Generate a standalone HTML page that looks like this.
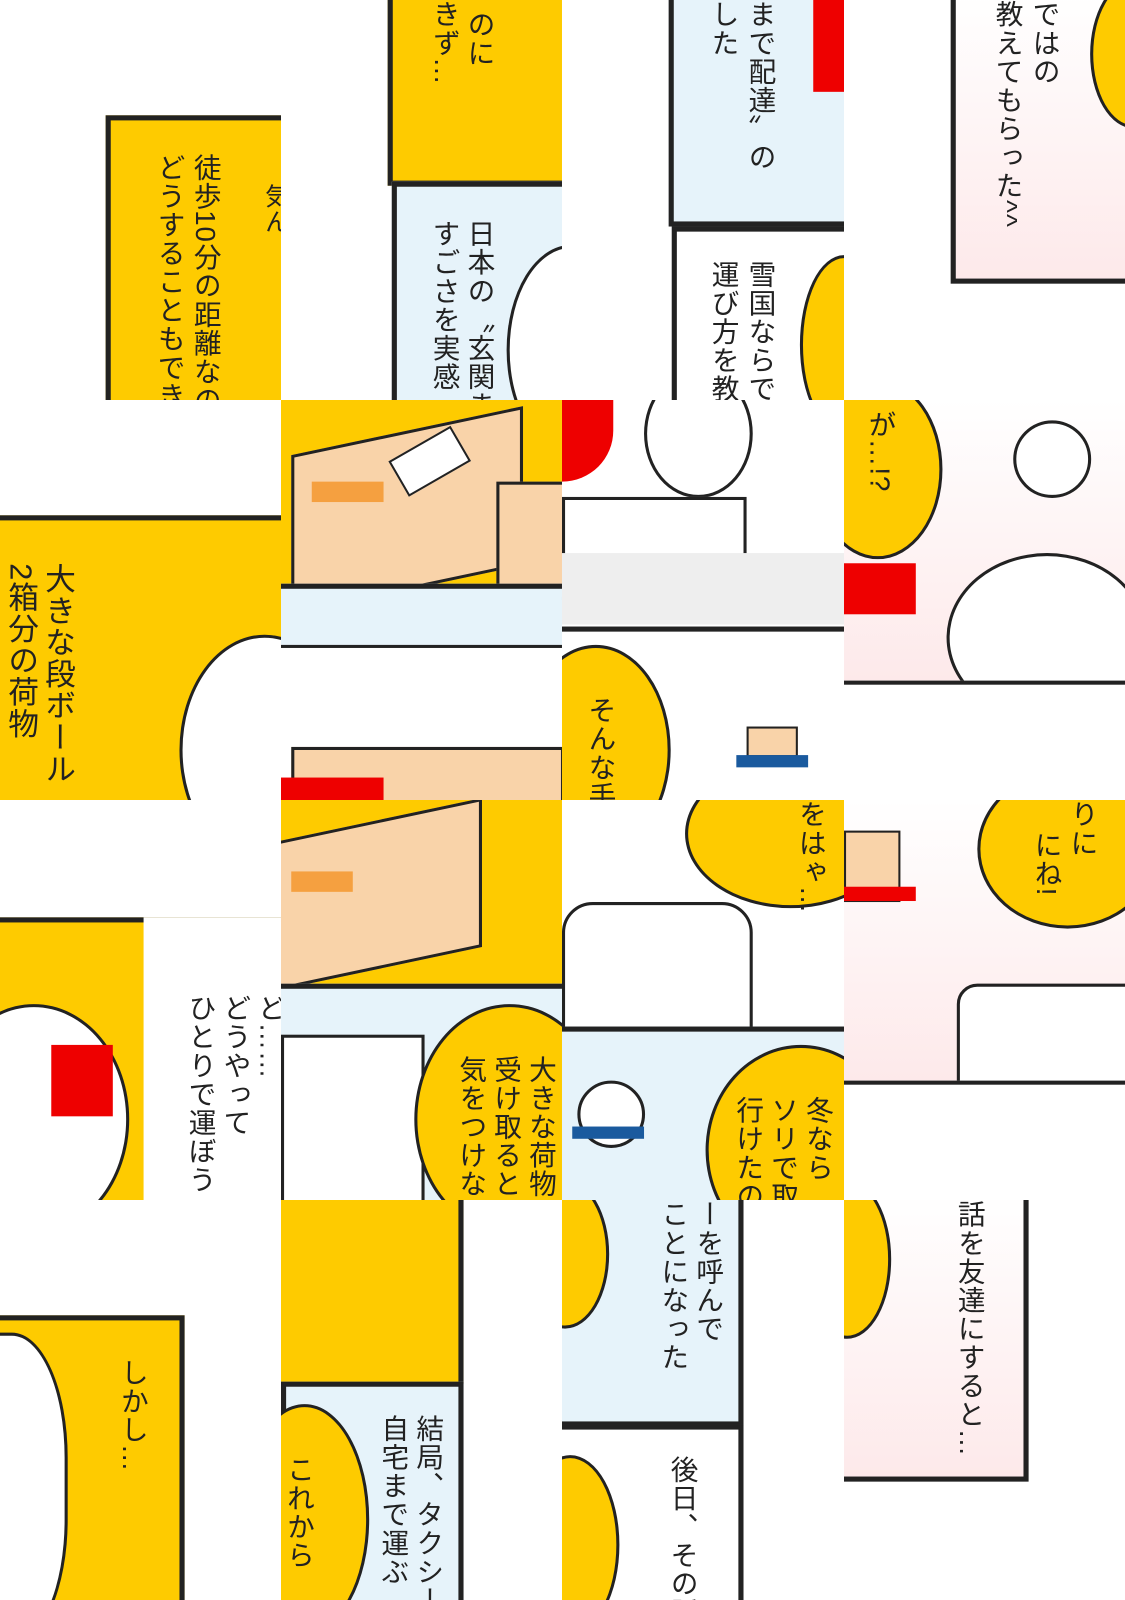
<!DOCTYPE html>
<html><head><meta charset="utf-8"><style>
html,body{margin:0;padding:0;background:#fff;overflow:hidden}
#w{width:1097px;height:1568px;position:relative;transform:scale(1.02553,1.02041);transform-origin:0 0;overflow:hidden;background:#fff}
.t{position:absolute;overflow:hidden;background:#fff}
.b{position:absolute;box-sizing:border-box}
.y{background:#fecb00}
.lb{background:#e6f3fa}
.pk{background:linear-gradient(#fff,#fde9ea)}
.bd{border:5px solid #222}
.v{position:absolute;writing-mode:vertical-rl;font-family:"Liberation Sans","Noto Sans CJK JP",sans-serif;font-size:27px;color:#222;line-height:34px;white-space:nowrap;letter-spacing:1px}
.blob{position:absolute;background:#fecb00;border-radius:50%;border:3px solid #222}
.wb{position:absolute;background:#fff;border:3px solid #222;border-radius:50%}
.box{position:absolute;background:#f9d3a9;border:3px solid #222}
.tape{position:absolute;background:#f5a040}
</style></head><body><div id="w">
<!-- row 0 -->
<div class="t" style="left:0;top:0;width:274px;height:392px">
 <div class="b y bd" style="left:103px;top:113px;width:190px;height:300px"></div>
 <div class="v" style="left:183px;top:150px">徒歩10分の距離なの</div>
 <div class="v" style="left:148px;top:150px">どうすることもでき</div>
 <div class="v" style="left:250px;top:180px;font-size:24px">気ん</div>
</div>
<div class="t" style="left:274px;top:0;width:274px;height:392px">
 <div class="b y bd" style="left:104px;top:-10px;width:190px;height:192px"></div>
 <div class="v" style="left:176px;top:10px">のに</div>
 <div class="v" style="left:142px;top:0">きず…</div>
 <div class="b lb bd" style="left:108px;top:178px;width:190px;height:240px"></div>
 <div class="wb" style="left:220px;top:240px;width:120px;height:200px"></div>
 <div class="v" style="left:176px;top:215px">日本の〝玄関ま</div>
 <div class="v" style="left:142px;top:215px">すごさを実感</div>
</div>
<div class="t" style="left:548px;top:0;width:275px;height:392px">
 <div class="b lb bd" style="left:104px;top:-10px;width:190px;height:232px"></div>
 <div class="b" style="left:245px;top:0;width:40px;height:90px;background:#e00"></div>
 <div class="v" style="left:176px;top:0">まで配達〟の</div>
 <div class="v" style="left:140px;top:0">した</div>
 <div class="b bd" style="left:107px;top:222px;width:190px;height:190px;background:#fff"></div>
 <div class="blob" style="left:232px;top:250px;width:80px;height:170px"></div>
 <div class="v" style="left:176px;top:255px">雪国ならで</div>
 <div class="v" style="left:140px;top:255px">運び方を教</div>
</div>
<div class="t" style="left:823px;top:0;width:274px;height:392px">
 <div class="b pk bd" style="left:104px;top:-10px;width:190px;height:288px"></div>
 <div class="blob" style="left:240px;top:-20px;width:80px;height:140px"></div>
 <div class="v" style="left:178px;top:0">ではの</div>
 <div class="v" style="left:142px;top:0">教えてもらった^^</div>
</div>
<!-- row 1 -->
<div class="t" style="left:0;top:392px;width:274px;height:392px">
 <div class="b y" style="left:0;top:113px;width:274px;height:300px;border-top:5px solid #222"></div>
 <div class="wb" style="left:175px;top:230px;width:160px;height:220px"></div>
 <div class="v" style="left:38px;top:160px;font-size:30px">大きな段ボール</div>
 <div class="v" style="left:2px;top:160px;font-size:30px">2箱分の荷物</div>
</div>
<div class="t" style="left:274px;top:392px;width:274px;height:392px">
 <div class="b y" style="left:0;top:0;width:274px;height:180px"></div>
 <div class="box" style="left:10px;top:30px;width:220px;height:150px;transform:skewY(-12deg)"></div>
 <div class="tape" style="left:30px;top:80px;width:70px;height:20px"></div>
 <div class="b" style="left:110px;top:40px;width:70px;height:40px;background:#fff;border:2px solid #222;transform:rotate(-30deg)"></div>
 <div class="box" style="left:210px;top:80px;width:80px;height:110px"></div>
 <div class="b lb" style="left:0;top:180px;width:274px;height:220px;border-top:5px solid #222"></div>
 <div class="b" style="left:0;top:240px;width:274px;height:160px;background:#fff;border-top:3px solid #222"></div>
 <div class="box" style="left:10px;top:340px;width:260px;height:60px"></div>
 <div class="b" style="left:0;top:370px;width:100px;height:30px;background:#e00"></div>
</div>
<div class="t" style="left:548px;top:392px;width:275px;height:392px">
 <div class="b" style="left:0;top:0;width:50px;height:80px;background:#e00;border-radius:0 0 50px 0"></div>
 <div class="wb" style="left:80px;top:-30px;width:100px;height:120px"></div>
 <div class="b" style="left:0;top:95px;width:180px;height:60px;background:#fff;border:3px solid #222"></div>
 <div class="b" style="left:0;top:150px;width:275px;height:70px;background:#eee"></div>
 <div class="b" style="left:0;top:222px;width:275px;height:180px;background:#fff;border-top:5px solid #222"></div>
 <div class="blob" style="left:-40px;top:240px;width:140px;height:200px"></div>
 <div class="b" style="left:180px;top:320px;width:50px;height:30px;background:#f9d3a9;border:2px solid #222"></div>
 <div class="b" style="left:170px;top:348px;width:70px;height:12px;background:#1a5a9e"></div>
 <div class="v" style="left:20px;top:290px">そんな手</div>
</div>
<div class="t" style="left:823px;top:392px;width:274px;height:392px">
 <div class="b pk" style="left:0;top:0;width:274px;height:275px"></div>
 <div class="blob" style="left:-30px;top:-20px;width:120px;height:170px"></div>
 <div class="v" style="left:18px;top:10px">が…!?</div>
 <div class="wb" style="left:100px;top:150px;width:190px;height:160px"></div>
 <div class="b" style="left:0;top:160px;width:70px;height:50px;background:#e00"></div>
 <div class="b" style="left:0;top:275px;width:274px;height:120px;background:#fff;border-top:4px solid #222"></div>
 <div class="wb" style="left:165px;top:20px;width:70px;height:70px"></div>
</div>
<!-- row 2 -->
<div class="t" style="left:0;top:784px;width:274px;height:392px">
 <div class="b y" style="left:0;top:115px;width:274px;height:300px;border-top:5px solid #222"></div>
 <div class="b" style="left:140px;top:115px;width:134px;height:300px;background:#fff"></div>
 <div class="wb" style="left:-60px;top:200px;width:180px;height:220px"></div>
 <div class="b" style="left:50px;top:240px;width:60px;height:70px;background:#e00"></div>
 <div class="v" style="left:246px;top:190px">ど……</div>
 <div class="v" style="left:212px;top:190px">どうやって</div>
 <div class="v" style="left:178px;top:190px">ひとりで運ぼう</div>
</div>
<div class="t" style="left:274px;top:784px;width:274px;height:392px">
 <div class="b y" style="left:0;top:0;width:274px;height:180px"></div>
 <div class="box" style="left:-10px;top:20px;width:200px;height:140px;transform:skewY(-12deg)"></div>
 <div class="tape" style="left:10px;top:70px;width:60px;height:20px"></div>
 <div class="b lb" style="left:0;top:180px;width:274px;height:220px;border-top:5px solid #222"></div>
 <div class="b" style="left:0;top:230px;width:140px;height:170px;background:#fff;border:3px solid #222"></div>
 <div class="blob" style="left:130px;top:200px;width:180px;height:220px"></div>
 <div class="v" style="left:236px;top:250px">大きな荷物を</div>
 <div class="v" style="left:202px;top:250px">受け取るとき</div>
 <div class="v" style="left:168px;top:250px">気をつけなさ</div>
</div>
<div class="t" style="left:548px;top:784px;width:275px;height:392px">
 <div class="blob" style="left:120px;top:-40px;width:200px;height:140px"></div>
 <div class="v" style="left:225px;top:0">をはゃ…</div>
 <div class="wb" style="left:0;top:100px;width:180px;height:180px;border-radius:30px"></div>
 <div class="b" style="left:0;top:222px;width:275px;height:180px;background:#e6f3fa;border-top:5px solid #222"></div>
 <div class="wb" style="left:15px;top:275px;width:60px;height:60px"></div>
 <div class="b" style="left:10px;top:320px;width:70px;height:12px;background:#1a5a9e"></div>
 <div class="blob" style="left:140px;top:240px;width:180px;height:200px"></div>
 <div class="v" style="left:232px;top:290px">冬なら</div>
 <div class="v" style="left:198px;top:290px">ソリで取</div>
 <div class="v" style="left:164px;top:290px">行けたの</div>
</div>
<div class="t" style="left:823px;top:784px;width:274px;height:392px">
 <div class="b pk" style="left:0;top:0;width:274px;height:275px"></div>
 <div class="blob" style="left:130px;top:-30px;width:170px;height:150px"></div>
 <div class="v" style="left:215px;top:0">りに</div>
 <div class="v" style="left:180px;top:30px">にね!</div>
 <div class="b" style="left:0;top:30px;width:55px;height:70px;background:#f9d3a9;border:2px solid #222"></div>
 <div class="b" style="left:0;top:85px;width:70px;height:14px;background:#e00"></div>
 <div class="wb" style="left:110px;top:180px;width:200px;height:160px;border-radius:20px"></div>
 <div class="b" style="left:0;top:275px;width:274px;height:120px;background:#fff;border-top:4px solid #222"></div>
</div>
<!-- row 3 -->
<div class="t" style="left:0;top:1176px;width:274px;height:392px">
 <div class="b y bd" style="left:-10px;top:113px;width:190px;height:300px"></div>
 <div class="wb" style="left:-70px;top:130px;width:130px;height:300px;border-radius:40%"></div>
 <div class="v" style="left:112px;top:155px">しかし…</div>
</div>
<div class="t" style="left:274px;top:1176px;width:274px;height:392px">
 <div class="b y" style="left:0;top:0;width:178px;height:180px;border-right:5px solid #222"></div>
 <div class="b lb bd" style="left:0;top:178px;width:178px;height:240px"></div>
 <div class="blob" style="left:-40px;top:200px;width:120px;height:220px"></div>
 <div class="v" style="left:0;top:250px">これから</div>
 <div class="v" style="left:126px;top:210px">結局、タクシー</div>
 <div class="v" style="left:92px;top:210px">自宅まで運ぶ</div>
</div>
<div class="t" style="left:548px;top:1176px;width:275px;height:392px">
 <div class="b lb bd" style="left:-10px;top:-10px;width:187px;height:232px"></div>
 <div class="blob" style="left:-40px;top:-20px;width:80px;height:140px"></div>
 <div class="v" style="left:125px;top:0">ーを呼んで</div>
 <div class="v" style="left:91px;top:0">ことになった</div>
 <div class="b bd" style="left:-10px;top:220px;width:187px;height:200px;background:#fff"></div>
 <div class="blob" style="left:-40px;top:250px;width:90px;height:170px"></div>
 <div class="v" style="left:100px;top:250px">後日、その話</div>
</div>
<div class="t" style="left:823px;top:1176px;width:274px;height:392px">
 <div class="b pk bd" style="left:-10px;top:-10px;width:190px;height:286px"></div>
 <div class="blob" style="left:-40px;top:-20px;width:80px;height:150px"></div>
 <div class="v" style="left:105px;top:0">話を友達にすると…</div>
</div>
</div></body></html>
